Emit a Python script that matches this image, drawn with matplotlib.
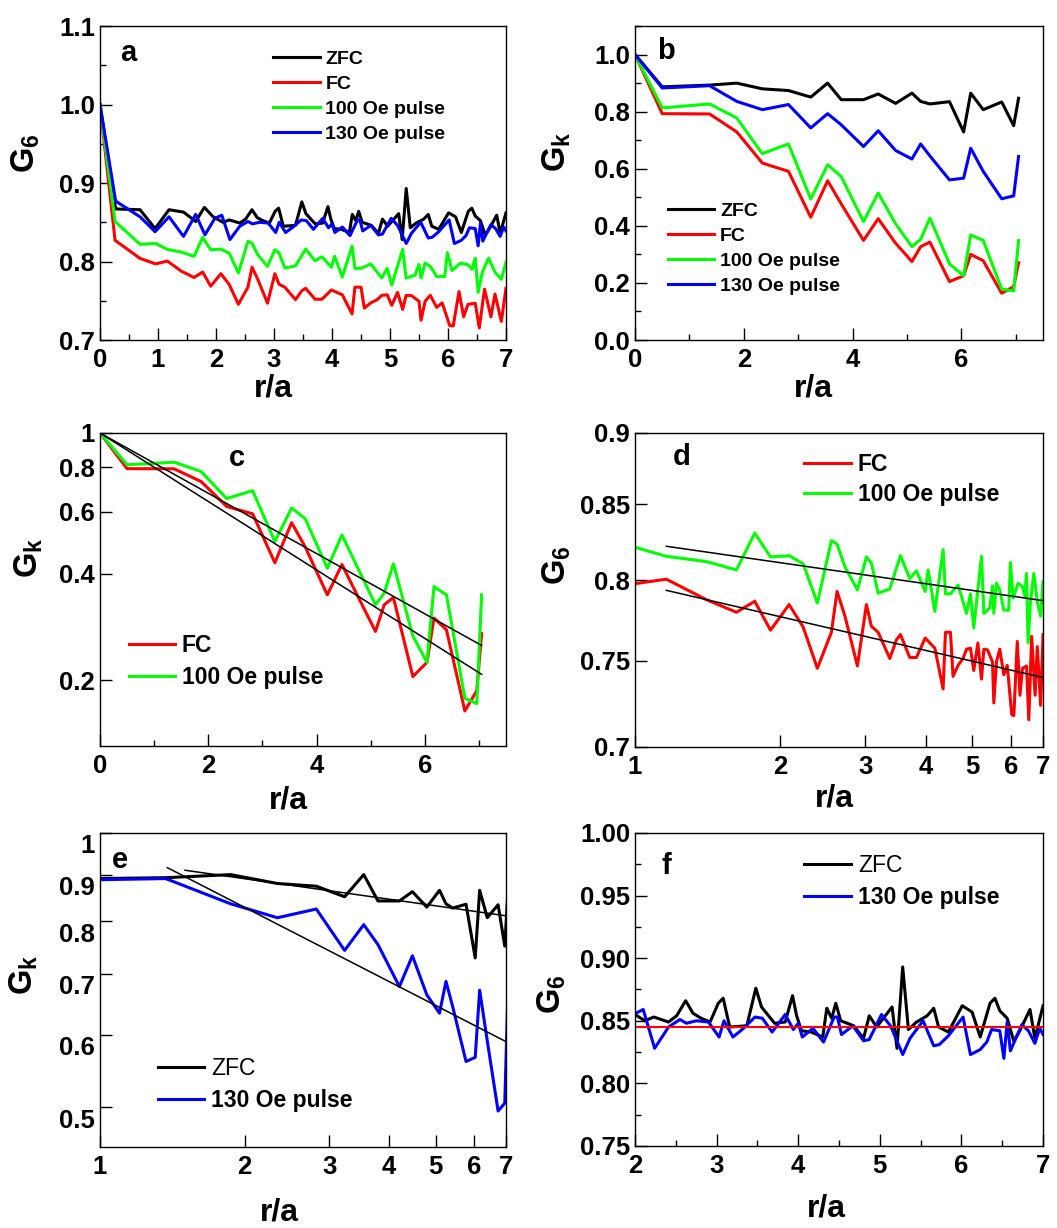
import matplotlib
matplotlib.use('Agg')
import matplotlib.pyplot as plt
from matplotlib.ticker import MultipleLocator, FixedLocator, FixedFormatter, NullLocator
from matplotlib.transforms import ScaledTranslation

plt.rcParams['font.family'] = ['Liberation Sans', 'DejaVu Sans']
plt.rcParams['font.weight'] = 'bold'
plt.rcParams['mathtext.fontset'] = 'custom'
plt.rcParams['mathtext.bf'] = 'Liberation Sans:bold'
plt.rcParams['mathtext.rm'] = 'Liberation Sans:bold'

# ---- G6 (bond orientational correlation) ----
r6_zfc = [0, 0.27, 0.69, 0.95, 1.19, 1.44, 1.65, 1.80, 1.95, 2.12,
          2.23, 2.41, 2.51, 2.62, 2.71, 2.81, 2.92, 3.02, 3.08, 3.16,
          3.37, 3.48, 3.55, 3.71, 3.84, 3.93, 3.98, 4.04, 4.16, 4.30,
          4.35, 4.41, 4.46, 4.52, 4.68, 4.80, 4.87, 4.96, 5.15, 5.21,
          5.28, 5.35, 5.45, 5.58, 5.66, 5.72, 5.84, 6.01, 6.13, 6.23,
          6.35, 6.41, 6.47, 6.56, 6.64, 6.70, 6.84, 6.90, 7.0]
g6_zfc = [1.0, 0.867, 0.866, 0.842, 0.866, 0.863, 0.851, 0.869, 0.857, 0.850,
          0.853, 0.849, 0.854, 0.866, 0.856, 0.852, 0.849, 0.864, 0.868, 0.845,
          0.846, 0.876, 0.861, 0.848, 0.849, 0.870, 0.854, 0.842, 0.841, 0.837,
          0.860, 0.852, 0.864, 0.850, 0.846, 0.836, 0.854, 0.845, 0.861, 0.828,
          0.893, 0.843, 0.849, 0.854, 0.860, 0.845, 0.841, 0.862, 0.857, 0.837,
          0.864, 0.868, 0.858, 0.852, 0.834, 0.840, 0.859, 0.836, 0.862]

r6_fc = [0, 0.26, 0.69, 0.96, 1.161, 1.405, 1.622, 1.77, 1.908, 2.085,
         2.229, 2.386, 2.551, 2.621, 2.719, 2.888, 3.015, 3.087, 3.188, 3.37,
         3.48, 3.546, 3.707, 3.827, 3.99, 4.178, 4.346, 4.395, 4.501, 4.557,
         4.668, 4.78, 4.859, 4.952, 5.03, 5.13, 5.219, 5.278, 5.37, 5.50,
         5.535, 5.606, 5.695, 5.805, 5.90, 6.03, 6.09, 6.19, 6.27, 6.345,
         6.47, 6.54, 6.63, 6.74, 6.81, 6.92, 7.0]
g6_fc = [1.0, 0.827, 0.804, 0.797, 0.8006, 0.7876, 0.7797, 0.7866, 0.7686, 0.7845,
         0.7706, 0.7455, 0.7673, 0.7928, 0.7777, 0.7469, 0.7845, 0.7710, 0.7673, 0.7514,
         0.7628, 0.7659, 0.7520, 0.7520, 0.7638, 0.7576, 0.7333, 0.7673, 0.7673, 0.7407,
         0.7473, 0.7514, 0.757, 0.7576, 0.7442, 0.7607, 0.7391, 0.757, 0.7566, 0.7494,
         0.7251, 0.7494, 0.757, 0.7417, 0.7473, 0.7184, 0.7178, 0.7617, 0.7296, 0.7455,
         0.7469, 0.7154, 0.7648, 0.7296, 0.7586, 0.7237, 0.7659]

r6_100 = [0, 0.26, 0.69, 0.96, 1.161, 1.405, 1.622, 1.77, 1.908, 2.085,
          2.229, 2.386, 2.551, 2.621, 2.719, 2.888, 3.015, 3.087, 3.188, 3.37,
          3.546, 3.707, 3.827, 3.99, 4.046, 4.178, 4.346, 4.395, 4.501, 4.668,
          4.859, 4.952, 5.03, 5.219, 5.278, 5.43, 5.50, 5.535, 5.606, 5.695,
          5.805, 5.944, 5.99, 6.07, 6.215, 6.345, 6.416, 6.47, 6.52, 6.59,
          6.70, 6.81, 6.92, 7.0]
g6_100 = [1.0, 0.851, 0.822, 0.823, 0.8154, 0.812, 0.8066, 0.8307, 0.815, 0.8158,
          0.8106, 0.7855, 0.8257, 0.8234, 0.8088, 0.7938, 0.815, 0.8110, 0.7917, 0.7944,
          0.8158, 0.801, 0.806, 0.7928, 0.8066, 0.7803, 0.8198, 0.7913, 0.7913, 0.7969,
          0.779, 0.7913, 0.770, 0.8154, 0.779, 0.7825, 0.7963, 0.779, 0.798, 0.7938,
          0.781, 0.781, 0.8114, 0.7886, 0.798, 0.7959, 0.790, 0.8043, 0.7608, 0.7859,
          0.8043, 0.7866, 0.7773, 0.799]

r6_130 = [0, 0.27, 0.69, 0.95, 1.19, 1.44, 1.65, 1.81, 1.98, 2.10,
          2.24, 2.41, 2.55, 2.63, 2.75, 2.90, 3.03, 3.09, 3.20, 3.33,
          3.47, 3.56, 3.68, 3.84, 3.94, 4.00, 4.05, 4.18, 4.31, 4.44,
          4.48, 4.53, 4.67, 4.80, 4.87, 5.02, 5.13, 5.19, 5.28, 5.37,
          5.53, 5.66, 5.73, 5.84, 6.02, 6.11, 6.23, 6.31, 6.37, 6.47,
          6.52, 6.56, 6.60, 6.74, 6.82, 6.90, 6.96, 7.0]
g6_130 = [1.0, 0.877, 0.857, 0.838, 0.857, 0.832, 0.860, 0.834, 0.855, 0.859,
          0.828, 0.845, 0.851, 0.848, 0.850, 0.849, 0.837, 0.850, 0.837, 0.844,
          0.853, 0.852, 0.841, 0.855, 0.843, 0.848, 0.837, 0.844, 0.833, 0.853,
          0.853, 0.839, 0.846, 0.834, 0.835, 0.855, 0.846, 0.837, 0.823, 0.836,
          0.850, 0.830, 0.831, 0.838, 0.853, 0.823, 0.827, 0.833, 0.843, 0.842,
          0.820, 0.849, 0.826, 0.847, 0.842, 0.832, 0.844, 0.839]

# ---- Gk (translational correlation) ----
rk = [0, 0.50, 1.37, 1.87, 2.34, 2.82, 3.23, 3.54, 3.79, 4.20, 4.47,
      4.79, 5.09, 5.25, 5.42, 5.78, 6.04, 6.17, 6.40, 6.74, 6.96, 7.05]
gk_zfc = [1.0, 0.887, 0.893, 0.900, 0.880, 0.874, 0.851, 0.900, 0.842, 0.842, 0.862,
          0.829, 0.865, 0.836, 0.827, 0.835, 0.729, 0.865, 0.807, 0.834, 0.751, 0.847]
gk_fc = [1.0, 0.793, 0.792, 0.729, 0.620, 0.591, 0.430, 0.558, 0.477, 0.349, 0.425,
         0.339, 0.275, 0.327, 0.343, 0.205, 0.225, 0.300, 0.278, 0.164, 0.187, 0.271]
gk_100 = [1.0, 0.813, 0.827, 0.778, 0.653, 0.687, 0.494, 0.614, 0.573, 0.415, 0.515,
          0.407, 0.327, 0.353, 0.427, 0.267, 0.225, 0.368, 0.349, 0.178, 0.172, 0.349]
gk_130 = [1.0, 0.883, 0.891, 0.836, 0.807, 0.825, 0.743, 0.793, 0.754, 0.678, 0.733,
          0.664, 0.634, 0.687, 0.645, 0.561, 0.567, 0.672, 0.591, 0.495, 0.505, 0.643]

# fit lines (end points)
fit_c_x = [0, 7.05]
fit_c_fc = [1.0, 0.208]
fit_c_100 = [1.0, 0.251]
fit_d_x = [1.161, 7.0]
fit_d_fc = [0.7935, 0.740]
fit_d_100 = [0.822, 0.787]
fit_e_zfc_x = [1.503, 7.0]
fit_e_zfc = [0.910, 0.811]
fit_e_130_x = [1.381, 7.0]
fit_e_130 = [0.916, 0.590]
g6_mean_x = [2, 7]
g6_mean = [0.845, 0.845]

labels = ['ZFC', 'FC', '100 Oe pulse', '130 Oe pulse']
BLACK, RED, GREEN, BLUE = '#000000', '#ff0000', '#00ff00', '#0000ff'
LW = 2.2

G6 = r'$\mathbf{G}_\mathbf{6}$'
GK = r'$\mathbf{G}_\mathbf{k}$'


def style(ax):
    ax.tick_params(which='both', direction='in', top=False, right=False,
                   labelsize=18.5, width=1.0)
    ax.tick_params(which='major', length=8.5)
    ax.tick_params(which='minor', length=4.5)
    ax.tick_params(axis='x', which='both', pad=6)
    for s in ax.spines.values():
        s.set_linewidth(1.0)


def fixed_ticks(axis, vals, texts):
    axis.set_major_locator(FixedLocator(vals))
    axis.set_major_formatter(FixedFormatter(texts))
    axis.set_minor_locator(NullLocator())


def legend(ax, x, y, size, spacing, hl):
    return ax.legend(loc='upper left', bbox_to_anchor=(x, y), frameon=False,
                     fontsize=size, labelspacing=spacing, handlelength=hl,
                     handletextpad=0.3, borderpad=0, borderaxespad=0)


def labels_xy(ax, ylab, xl, yl):
    ax.set_xlabel('r/a', fontsize=23, fontweight='bold')
    ax.set_ylabel(ylab, fontsize=23.5)
    ax.xaxis.set_label_coords(*xl)
    ax.yaxis.set_label_coords(*yl)


fig = plt.figure(figsize=(10.57, 12.28), dpi=100)

# ---- a ----
ax = fig.add_axes([0.0946, 0.7231, 0.3841, 0.2557])
ax.plot(r6_zfc, g6_zfc, color=BLACK, lw=LW, label=labels[0])
ax.plot(r6_fc, g6_fc, color=RED, lw=LW, label=labels[1])
ax.plot(r6_100, g6_100, color=GREEN, lw=LW, label=labels[2])
ax.plot(r6_130, g6_130, color=BLUE, lw=LW, label=labels[3])
ax.set_xlim(0, 7)
ax.set_ylim(0.7, 1.1)
ax.xaxis.set_major_locator(MultipleLocator(1))
ax.xaxis.set_minor_locator(MultipleLocator(0.5))
ax.yaxis.set_major_locator(MultipleLocator(0.1))
ax.yaxis.set_minor_locator(MultipleLocator(0.05))
ax.yaxis.set_major_formatter(plt.FormatStrFormatter('%.1f'))
style(ax)
legend(ax, 0.426, 0.924, 14, 0.38, 2.4)
ax.text(0.07, 0.914, 'a', transform=ax.transAxes, fontsize=21, ha='center', va='center')
labels_xy(ax, G6, (0.426, -0.105), (-0.143, 0.595))

# ---- b ----
ax = fig.add_axes([0.6008, 0.7231, 0.3860, 0.2557])
ax.plot(rk, gk_zfc, color=BLACK, lw=LW, label=labels[0])
ax.plot(rk, gk_fc, color=RED, lw=LW, label=labels[1])
ax.plot(rk, gk_100, color=GREEN, lw=LW, label=labels[2])
ax.plot(rk, gk_130, color=BLUE, lw=LW, label=labels[3])
ax.set_xlim(0, 7.5)
ax.set_ylim(0, 1.1)
ax.xaxis.set_major_locator(MultipleLocator(2))
ax.xaxis.set_minor_locator(MultipleLocator(1))
ax.yaxis.set_major_locator(MultipleLocator(0.2))
ax.yaxis.set_minor_locator(MultipleLocator(0.1))
ax.yaxis.set_major_formatter(plt.FormatStrFormatter('%.1f'))
style(ax)
legend(ax, 0.08, 0.439, 14, 0.38, 2.4)
ax.text(0.076, 0.92, 'b', transform=ax.transAxes, fontsize=21, ha='center', va='center')
labels_xy(ax, GK, (0.436, -0.105), (-0.152, 0.60))

# ---- c ----
ax = fig.add_axes([0.0946, 0.3925, 0.3841, 0.2549])
ax.plot(rk, gk_fc, color=RED, lw=LW, label=labels[1])
ax.plot(rk, gk_100, color=GREEN, lw=LW, label=labels[2])
ax.plot(fit_c_x, fit_c_fc, color=BLACK, lw=1.1)
ax.plot(fit_c_x, fit_c_100, color=BLACK, lw=1.1)
ax.set_yscale('log')
ax.set_xlim(0, 7.5)
ax.set_ylim(0.1305, 1.0)
ax.xaxis.set_major_locator(MultipleLocator(2))
ax.xaxis.set_minor_locator(MultipleLocator(1))
fixed_ticks(ax.yaxis, [0.2, 0.4, 0.6, 0.8, 1.0], ['0.2', '0.4', '0.6', '0.8', '1'])
style(ax)
legend(ax, 0.072, 0.359, 16.5, 0.40, 2.0)
ax.text(0.337, 0.92, 'c', transform=ax.transAxes, fontsize=21, ha='center', va='center')
labels_xy(ax, GK, (0.463, -0.125), (-0.135, 0.60))

# ---- d ----
ax = fig.add_axes([0.6008, 0.3917, 0.3860, 0.2557])
ax.plot(r6_fc, g6_fc, color=RED, lw=LW, label=labels[1])
ax.plot(r6_100, g6_100, color=GREEN, lw=LW, label=labels[2])
ax.plot(fit_d_x, fit_d_fc, color=BLACK, lw=1.1)
ax.plot(fit_d_x, fit_d_100, color=BLACK, lw=1.1)
ax.set_xscale('log')
ax.set_yscale('log')
ax.set_xlim(1, 7)
ax.set_ylim(0.7, 0.9)
fixed_ticks(ax.xaxis, [1, 2, 3, 4, 5, 6, 7], ['1', '2', '3', '4', '5', '6', '7'])
fixed_ticks(ax.yaxis, [0.7, 0.75, 0.8, 0.85, 0.9], ['0.7', '0.75', '0.8', '0.85', '0.9'])
style(ax)
legend(ax, 0.414, 0.937, 16.5, 0.31, 2.05)
ax.text(0.115, 0.924, 'd', transform=ax.transAxes, fontsize=21, ha='center', va='center')
labels_xy(ax, G6, (0.488, -0.115), (-0.152, 0.58))

# ---- e ----
ax = fig.add_axes([0.0946, 0.0660, 0.3841, 0.2557])
ax.plot(rk, gk_zfc, color=BLACK, lw=LW, label=labels[0])
ax.plot(rk, gk_130, color=BLUE, lw=LW, label=labels[3])
ax.plot(fit_e_zfc_x, fit_e_zfc, color=BLACK, lw=1.1)
ax.plot(fit_e_130_x, fit_e_130, color=BLACK, lw=1.1)
ax.set_xscale('log')
ax.set_yscale('log')
ax.set_xlim(1, 7)
ax.set_ylim(0.452, 1.0)
fixed_ticks(ax.xaxis, [1, 2, 3, 4, 5, 6, 7], ['1', '2', '3', '4', '5', '6', '7'])
fixed_ticks(ax.yaxis, [0.5, 0.6, 0.7, 0.8, 0.9, 1.0], ['0.5', '0.6', '0.7', '0.8', '0.9', '1'])
style(ax)
shift = ScaledTranslation(0, -0.11, fig.dpi_scale_trans)
for t in ax.get_yticklabels():
    t.set_transform(t.get_transform() + shift)
leg = legend(ax, 0.143, 0.285, 16.5, 0.36, 2.0)
leg.get_texts()[0].set_fontweight('normal')
ax.text(0.049, 0.914, 'e', transform=ax.transAxes, fontsize=21, ha='center', va='center')
labels_xy(ax, GK, (0.443, -0.16), (-0.148, 0.548))

# ---- f ----
ax = fig.add_axes([0.6008, 0.0668, 0.3860, 0.2549])
ax.plot(r6_zfc, g6_zfc, color=BLACK, lw=LW, label=labels[0])
ax.plot(r6_130, g6_130, color=BLUE, lw=LW, label=labels[3])
ax.plot(g6_mean_x, g6_mean, color=RED, lw=1.5)
ax.set_xlim(2, 7)
ax.set_ylim(0.75, 1.0)
ax.xaxis.set_major_locator(MultipleLocator(1))
ax.xaxis.set_minor_locator(MultipleLocator(0.5))
ax.yaxis.set_major_locator(MultipleLocator(0.05))
ax.yaxis.set_minor_locator(MultipleLocator(0.025))
ax.yaxis.set_major_formatter(plt.FormatStrFormatter('%.2f'))
style(ax)
leg = legend(ax, 0.414, 0.933, 16.5, 0.40, 2.05)
leg.get_texts()[0].set_fontweight('normal')
ax.text(0.076, 0.895, 'f', transform=ax.transAxes, fontsize=21, ha='center', va='center')
labels_xy(ax, G6, (0.47, -0.153), (-0.164, 0.486))

fig.savefig('out.png', dpi=100)
